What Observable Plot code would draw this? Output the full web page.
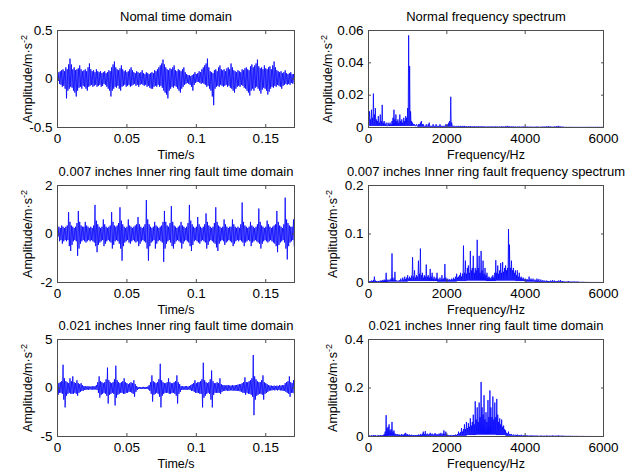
<!DOCTYPE html>
<html><head><meta charset="utf-8">
<script src="https://cdn.jsdelivr.net/npm/d3@7"></script>
<script src="https://cdn.jsdelivr.net/npm/@observablehq/plot@0.6"></script>
<style>
html,body{margin:0;padding:0;background:#fff;}
#chart{position:relative;width:639px;height:472px;overflow:hidden;background:#fff;}
#chart svg{position:absolute;overflow:visible;font-family:"Liberation Sans",Arial,Helvetica,sans-serif;font-size:13px;}
</style></head><body><div id="chart"></div>
<script>
// ---- tick labels / axis domains ----
const timeTicks = [0, 0.05, 0.1, 0.15];
const freqTicks = [0, 2000, 4000, 6000];
const timeDomain = [0, 0.1707];
const freqDomain = [0, 6000];
const dt = 0.001;   // seconds per listed time column
const df = 25;      // Hz per listed spectrum column
const floorBand = 250; // Hz per listed spectrum floor value

const titles = [
  "Nomal time domain", "Normal frequency spectrum",
  "0.007 inches Inner ring fault time domain", "0.007 inches Inner ring fault frequency spectrum",
  "0.021 inches Inner ring fault time domain", "0.021 inches Inner ring fault time domain"
];
const xLabels = ["Time/s", "Frequency/Hz"];
const yLabel = "Amplitude/m\u00B7s";
const yDomains = [[-0.5, 0.5], [0, 0.06], [-2, 2], [0, 0.2], [-5, 5], [0, 0.4]];
const yTicks = [[-0.5, 0, 0.5], [0, 0.02, 0.04, 0.06], [-2, 0, 2], [0, 0.1, 0.2], [-5, 0, 5], [0, 0.2, 0.4]];

// ---- time signals: max and min per 1 ms column (m/s^2) ----
const normalHi = [
  0.05, 0.07, 0.08, 0.09, 0.10, 0.08, 0.12, 0.10, 0.15, 0.21,
  0.15, 0.10, 0.12, 0.09, 0.10, 0.11, 0.14, 0.10, 0.08, 0.09,
  0.10, 0.08, 0.12, 0.16, 0.10, 0.08, 0.09, 0.07, 0.10, 0.08,
  0.07, 0.08, 0.06, 0.07, 0.08, 0.06, 0.07, 0.09, 0.08, 0.12,
  0.15, 0.18, 0.12, 0.10, 0.09, 0.11, 0.14, 0.10, 0.08, 0.09,
  0.07, 0.08, 0.10, 0.12, 0.09, 0.07, 0.06, 0.08, 0.07, 0.06,
  0.07, 0.09, 0.06, 0.05, 0.07, 0.06, 0.05, 0.06, 0.07, 0.06,
  0.09, 0.08, 0.10, 0.12, 0.14, 0.16, 0.20, 0.15, 0.12, 0.10,
  0.09, 0.11, 0.10, 0.12, 0.14, 0.09, 0.08, 0.10, 0.09, 0.08,
  0.10, 0.12, 0.07, 0.05, 0.04, 0.04, 0.03, 0.04, 0.05, 0.07,
  0.05, 0.06, 0.08, 0.07, 0.10, 0.12, 0.14, 0.16, 0.21, 0.12,
  0.08, 0.07, 0.06, 0.09, 0.10, 0.08, 0.12, 0.14, 0.10, 0.09,
  0.10, 0.08, 0.11, 0.12, 0.10, 0.16, 0.12, 0.09, 0.08, 0.07,
  0.09, 0.08, 0.07, 0.10, 0.09, 0.11, 0.12, 0.10, 0.09, 0.13,
  0.15, 0.12, 0.14, 0.16, 0.20, 0.13, 0.11, 0.12, 0.10, 0.14,
  0.11, 0.10, 0.12, 0.13, 0.10, 0.14, 0.18, 0.12, 0.09, 0.08,
  0.07, 0.08, 0.06, 0.07, 0.09, 0.06, 0.05, 0.06, 0.07, 0.05,
  0.05
];
const normalLo = [
  -0.02, -0.05, -0.06, -0.08, -0.07, -0.10, -0.20, -0.12, -0.10, -0.08,
  -0.09, -0.12, -0.14, -0.18, -0.12, -0.09, -0.08, -0.10, -0.07, -0.08,
  -0.10, -0.12, -0.08, -0.07, -0.06, -0.08, -0.07, -0.06, -0.08, -0.07,
  -0.06, -0.08, -0.07, -0.05, -0.06, -0.08, -0.10, -0.12, -0.18, -0.12,
  -0.10, -0.08, -0.09, -0.07, -0.10, -0.12, -0.08, -0.07, -0.06, -0.08,
  -0.07, -0.06, -0.08, -0.07, -0.06, -0.05, -0.07, -0.06, -0.08, -0.06,
  -0.05, -0.06, -0.07, -0.06, -0.08, -0.07, -0.09, -0.10, -0.10, -0.08,
  -0.07, -0.08, -0.06, -0.08, -0.07, -0.09, -0.12, -0.14, -0.16, -0.20,
  -0.12, -0.10, -0.08, -0.09, -0.07, -0.08, -0.10, -0.12, -0.14, -0.10,
  -0.08, -0.06, -0.05, -0.04, -0.05, -0.06, -0.08, -0.12, -0.06, -0.04,
  -0.03, -0.03, -0.04, -0.05, -0.04, -0.05, -0.06, -0.08, -0.07, -0.10,
  -0.12, -0.18, -0.27, -0.10, -0.08, -0.07, -0.08, -0.06, -0.07, -0.08,
  -0.07, -0.06, -0.08, -0.07, -0.09, -0.10, -0.12, -0.14, -0.10, -0.08,
  -0.07, -0.08, -0.06, -0.07, -0.09, -0.10, -0.12, -0.14, -0.17, -0.12,
  -0.10, -0.12, -0.09, -0.08, -0.10, -0.12, -0.15, -0.11, -0.09, -0.10,
  -0.12, -0.16, -0.13, -0.10, -0.08, -0.09, -0.07, -0.08, -0.06, -0.07,
  -0.08, -0.10, -0.07, -0.06, -0.05, -0.06, -0.05, -0.06, -0.04, -0.05,
  -0.03
];
const fault007Hi = [
  0.25, 0.3, 0.25, 0.35, 0.3, 0.25, 0.3, 0.35, 0.9, 0.5,
  0.35, 0.3, 0.25, 0.3, 0.45, 0.95, 0.5, 0.35, 0.3, 0.3,
  0.5, 0.35, 0.3, 0.25, 0.3, 0.25, 0.35, 1.2, 0.55, 0.4,
  0.3, 0.25, 0.3, 0.6, 0.4, 0.3, 0.25, 0.3, 0.35, 0.9,
  0.5, 0.35, 0.3, 0.35, 0.45, 1.1, 0.55, 0.4, 0.3, 0.25,
  0.3, 0.6, 0.35, 0.3, 0.25, 0.3, 0.35, 0.4, 0.7, 0.4,
  0.3, 0.25, 0.3, 0.4, 1.4, 0.6, 0.4, 0.3, 0.25, 0.3,
  0.5, 0.35, 0.3, 0.25, 0.3, 0.35, 0.5, 0.95, 0.5, 0.35,
  0.3, 0.45, 1.15, 0.5, 0.35, 0.3, 0.25, 0.3, 0.35, 0.5,
  0.35, 0.3, 0.25, 0.3, 0.45, 1.2, 0.55, 0.4, 0.3, 0.25,
  0.3, 0.7, 0.4, 0.3, 0.25, 0.3, 0.4, 0.85, 0.5, 0.35,
  0.3, 0.25, 0.3, 0.45, 1.1, 0.5, 0.35, 0.3, 0.25, 0.3,
  0.6, 0.4, 0.3, 0.25, 0.3, 0.3, 0.6, 0.4, 0.3, 0.25,
  0.3, 0.25, 0.4, 1.3, 0.5, 0.35, 0.3, 0.25, 0.3, 0.5,
  0.35, 0.3, 0.25, 0.3, 0.4, 1.05, 0.5, 0.35, 0.3, 0.25,
  0.3, 0.55, 0.4, 0.3, 0.25, 0.3, 0.35, 0.4, 0.95, 0.5,
  0.35, 0.3, 0.25, 0.4, 1.5, 0.6, 0.45, 0.35, 0.3, 0.3,
  0.6
];
const fault007Lo = [
  -0.1, -0.3, -0.25, -0.4, -0.3, -0.25, -0.3, -0.25, -0.5, -0.7,
  -0.45, -0.3, -0.25, -0.3, -0.9, -0.6, -0.4, -0.3, -0.25, -0.3,
  -0.35, -0.3, -0.25, -0.3, -0.25, -0.3, -0.35, -0.5, -0.75, -0.45,
  -0.35, -0.3, -0.25, -0.5, -0.4, -0.3, -0.25, -0.3, -0.35, -0.6,
  -0.45, -0.3, -0.25, -0.3, -0.4, -0.6, -1.1, -0.5, -0.35, -0.3,
  -0.25, -0.35, -0.4, -0.3, -0.25, -0.3, -0.35, -0.3, -0.5, -0.4,
  -0.3, -0.25, -0.3, -0.35, -0.6, -1.1, -0.5, -0.35, -0.3, -0.25,
  -0.6, -0.4, -0.3, -0.25, -0.3, -0.35, -1.15, -0.6, -0.4, -0.3,
  -0.25, -0.35, -0.5, -0.6, -0.4, -0.3, -0.25, -0.3, -0.35, -0.6,
  -0.4, -0.3, -0.25, -0.3, -0.35, -0.5, -0.7, -0.45, -0.3, -0.25,
  -0.3, -0.35, -0.4, -0.3, -0.25, -0.3, -0.35, -0.6, -0.45, -0.3,
  -0.25, -0.3, -0.35, -0.4, -0.55, -0.7, -0.4, -0.3, -0.25, -0.3,
  -0.45, -0.35, -0.3, -0.25, -0.3, -0.35, -0.5, -0.4, -0.3, -0.25,
  -0.3, -0.25, -0.3, -0.35, -0.5, -0.35, -0.3, -0.25, -0.3, -0.5,
  -0.35, -0.3, -0.25, -0.3, -0.35, -0.4, -0.6, -0.4, -0.3, -0.25,
  -0.3, -0.35, -0.3, -0.25, -0.3, -0.35, -0.4, -0.5, -0.75, -0.45,
  -0.35, -0.3, -0.25, -0.35, -0.6, -1.05, -0.5, -0.35, -0.3, -0.25,
  -0.5
];
const fault021Hi = [
  1.0, 0.5, 0.6, 0.7, 2.4, 1.0, 0.7, 0.6, 0.5, 1.0,
  0.7, 1.2, 0.6, 0.5, 0.8, 0.5, 0.4, 0.5, 0.3, 0.2,
  0.2, 0.15, 0.2, 0.15, 0.15, 0.2, 0.15, 0.2, 0.3, 0.6,
  1.2, 0.7, 0.6, 0.5, 0.6, 0.9, 2.1, 0.8, 0.6, 0.5,
  0.6, 0.9, 2.3, 0.8, 0.6, 0.5, 0.6, 0.7, 1.0, 0.6,
  0.5, 0.4, 0.5, 0.6, 0.5, 0.8, 0.4, 0.2, 0.1, 0.1,
  0.1, 0.1, 0.12, 0.1, 0.1, 0.15, 0.3, 0.6, 1.3, 0.7,
  0.6, 0.5, 0.6, 0.9, 2.5, 0.8, 0.6, 0.5, 0.5, 0.6,
  1.0, 0.6, 0.5, 0.5, 0.6, 0.7, 1.3, 0.6, 0.4, 0.2,
  0.2, 0.15, 0.2, 0.2, 0.15, 0.2, 0.3, 0.4, 0.5, 0.8,
  0.5, 0.6, 0.6, 0.7, 0.9, 2.6, 0.8, 0.6, 0.5, 0.6,
  0.9, 1.8, 0.7, 0.5, 0.5, 0.6, 0.5, 1.0, 0.4, 0.3,
  0.3, 0.25, 0.3, 0.3, 0.25, 0.25, 0.3, 0.25, 0.3, 0.3,
  0.35, 0.4, 0.4, 0.5, 0.6, 1.1, 0.6, 0.6, 0.7, 0.8,
  1.0, 3.4, 1.2, 0.9, 0.7, 0.6, 0.6, 0.8, 1.3, 0.6,
  0.5, 0.4, 0.3, 0.25, 0.25, 0.2, 0.25, 0.2, 0.25, 0.2,
  0.3, 0.25, 0.3, 0.3, 0.5, 0.6, 0.7, 1.2, 0.6, 0.5,
  0.8
];
const fault021Lo = [
  -0.7, -0.5, -0.5, -0.6, -1.2, -2.0, -0.8, -0.6, -0.5, -0.6,
  -0.6, -0.6, -0.5, -0.6, -0.8, -0.5, -0.4, -0.3, -0.3, -0.2,
  -0.2, -0.15, -0.2, -0.15, -0.15, -0.2, -0.15, -0.15, -0.2, -0.5,
  -1.0, -0.7, -0.6, -0.5, -0.6, -0.8, -1.6, -0.7, -0.6, -0.5,
  -0.6, -1.8, -1.0, -0.7, -0.6, -0.5, -0.5, -0.6, -0.6, -0.5,
  -0.5, -0.4, -0.4, -0.5, -0.6, -0.9, -0.4, -0.2, -0.1, -0.1,
  -0.1, -0.1, -0.1, -0.1, -0.1, -0.15, -0.3, -0.6, -1.4, -0.7,
  -0.6, -0.5, -0.6, -0.9, -2.0, -0.8, -0.6, -0.5, -0.5, -0.5,
  -0.6, -0.6, -0.5, -0.5, -0.6, -0.8, -1.6, -0.6, -0.4, -0.2,
  -0.2, -0.15, -0.2, -0.2, -0.15, -0.2, -0.3, -0.3, -0.4, -0.5,
  -0.5, -0.5, -0.6, -0.6, -2.0, -1.0, -0.8, -0.6, -0.5, -0.6,
  -1.2, -2.0, -0.7, -0.5, -0.5, -0.5, -0.5, -0.6, -0.4, -0.3,
  -0.3, -0.25, -0.3, -0.3, -0.25, -0.25, -0.3, -0.25, -0.3, -0.3,
  -0.3, -0.35, -0.4, -0.5, -0.5, -0.7, -0.5, -0.6, -0.6, -0.7,
  -0.9, -2.8, -1.2, -0.8, -0.7, -0.6, -0.6, -0.7, -1.2, -0.6,
  -0.5, -0.4, -0.3, -0.25, -0.25, -0.2, -0.25, -0.2, -0.25, -0.2,
  -0.25, -0.25, -0.3, -0.3, -0.4, -0.5, -0.6, -0.9, -0.5, -0.5,
  -0.6
];

// ---- amplitude spectra: peak per 25 Hz column ----
const specNormal = [
  0.002, 0.010, 0.005, 0.011, 0.006, 0.021, 0.008, 0.012, 0.005, 0.004,
  0.007, 0.003, 0.008, 0.004, 0.014, 0.003, 0.004, 0.002, 0.003, 0.001,
  0.003, 0.002, 0.003, 0.002, 0.004, 0.006, 0.011, 0.005, 0.008, 0.004,
  0.005, 0.003, 0.008, 0.004, 0.005, 0.003, 0.006, 0.004, 0.007, 0.006,
  0.012, 0.057, 0.038, 0.010, 0.004, 0.003, 0.002, 0.002, 0.001, 0.002,
  0.001, 0.002, 0.002, 0.003, 0.004, 0.002, 0.002, 0.001, 0.001, 0.002,
  0.001, 0.002, 0.003, 0.001, 0.001, 0.001, 0.002, 0.001, 0.001, 0.002,
  0.001, 0.001, 0.001, 0.002, 0.001, 0.001, 0.001, 0.001, 0.001, 0.002,
  0.001, 0.002, 0.003, 0.004, 0.019, 0.003, 0.001, 0.001, 0.001, 0.0005,
  0.001, 0.0005, 0.001, 0.0005, 0.001, 0.0005, 0.001, 0.0005, 0.001, 0.0005,
  0.0008, 0.0004, 0.0008, 0.0005, 0.0009, 0.0004, 0.0007, 0.0004, 0.0008, 0.0005,
  0.0007, 0.0004, 0.0008, 0.0004, 0.0007, 0.0005, 0.0008, 0.0004, 0.0007, 0.0004,
  0.0006, 0.0004, 0.0007, 0.0003, 0.0006, 0.0004, 0.0007, 0.0003, 0.0006, 0.0004,
  0.0007, 0.0003, 0.0006, 0.0004, 0.0006, 0.0003, 0.0007, 0.0004, 0.0006, 0.0003,
  0.0008, 0.0004, 0.0010, 0.0004, 0.0007, 0.0003, 0.0006, 0.0004, 0.0006, 0.0003,
  0.0006, 0.0003, 0.0005, 0.0003, 0.0006, 0.0003, 0.0005, 0.0003, 0.0006, 0.0003,
  0.0005, 0.0003, 0.0006, 0.0003, 0.0005, 0.0003, 0.0005, 0.0002, 0.0005, 0.0003,
  0.0005, 0.0002, 0.0006, 0.0003, 0.0005, 0.0002, 0.0005, 0.0003, 0.0006, 0.0003,
  0.0006, 0.0003, 0.0007, 0.0004, 0.0008, 0.0003, 0.0006, 0.0003, 0.0005, 0.0003,
  0.0006, 0.0003, 0.0008, 0.0004, 0.0010, 0.0004, 0.0006, 0.0003, 0.0005, 0.0003,
  0.0002, 0.0001, 0.0002, 0.0001, 0.0002, 0.0001, 0.0002, 0.0001, 0.0002, 0.0001,
  0.0002, 0.0001, 0.0002, 0.0001, 0.0002, 0.0001, 0.0002, 0.0001, 0.0002, 0.0001,
  0.0002, 0.0001, 0.0002, 0.0001, 0.0002, 0.0001, 0.0002, 0.0001, 0.0002, 0.0001,
  0.0002, 0.0001, 0.0002, 0.0001, 0.0002, 0.0001, 0.0002, 0.0001, 0.0002, 0.0001,
  0.0001
];
const spec007 = [
  0.002, 0.003, 0.002, 0.004, 0.003, 0.005, 0.012, 0.004, 0.003, 0.002,
  0.003, 0.002, 0.004, 0.003, 0.005, 0.004, 0.006, 0.005, 0.020, 0.006,
  0.004, 0.006, 0.005, 0.008, 0.060, 0.010, 0.006, 0.022, 0.005, 0.004,
  0.003, 0.004, 0.005, 0.008, 0.004, 0.010, 0.006, 0.012, 0.007, 0.010,
  0.015, 0.008, 0.012, 0.009, 0.014, 0.052, 0.012, 0.025, 0.010, 0.015,
  0.012, 0.045, 0.018, 0.070, 0.015, 0.020, 0.010, 0.015, 0.012, 0.037,
  0.012, 0.015, 0.010, 0.028, 0.012, 0.020, 0.008, 0.012, 0.007, 0.010,
  0.020, 0.008, 0.006, 0.010, 0.006, 0.015, 0.007, 0.009, 0.038, 0.010,
  0.006, 0.008, 0.005, 0.007, 0.005, 0.008, 0.006, 0.010, 0.007, 0.012,
  0.018, 0.010, 0.012, 0.015, 0.020, 0.012, 0.018, 0.076, 0.020, 0.045,
  0.018, 0.030, 0.035, 0.020, 0.065, 0.025, 0.030, 0.055, 0.020, 0.030,
  0.025, 0.088, 0.030, 0.055, 0.020, 0.065, 0.025, 0.045, 0.018, 0.030,
  0.015, 0.020, 0.010, 0.012, 0.010, 0.008, 0.012, 0.015, 0.010, 0.020,
  0.046, 0.020, 0.035, 0.018, 0.025, 0.040, 0.020, 0.042, 0.022, 0.030,
  0.035, 0.025, 0.030, 0.110, 0.078, 0.030, 0.045, 0.025, 0.030, 0.020,
  0.025, 0.015, 0.025, 0.012, 0.020, 0.010, 0.012, 0.008, 0.010, 0.006,
  0.008, 0.006, 0.007, 0.005, 0.012, 0.006, 0.008, 0.005, 0.008, 0.004,
  0.006, 0.004, 0.008, 0.004, 0.007, 0.003, 0.006, 0.003, 0.005, 0.003,
  0.004, 0.002, 0.004, 0.003, 0.003, 0.002, 0.004, 0.002, 0.005, 0.002,
  0.004, 0.002, 0.003, 0.002, 0.004, 0.002, 0.005, 0.002, 0.003, 0.002,
  0.002, 0.001, 0.002, 0.001, 0.003, 0.001, 0.002, 0.001, 0.002, 0.001,
  0.002, 0.001, 0.002, 0.001, 0.002, 0.001, 0.001, 0.001, 0.001, 0.0005,
  0.001, 0.0005, 0.001, 0.0005, 0.0003, 0.0002, 0.0002, 0.0001, 0.0001, 0.0001,
  0.0001, 0.0001, 0.0001, 0.0001, 0.0001, 0.0001, 0.0001, 0.0001, 0.0001, 0.0001,
  0.0001
];
const spec021 = [
  0.002, 0.004, 0.003, 0.005, 0.003, 0.006, 0.004, 0.005, 0.003, 0.004,
  0.005, 0.003, 0.006, 0.004, 0.005, 0.006, 0.010, 0.020, 0.088, 0.035,
  0.040, 0.050, 0.025, 0.030, 0.060, 0.020, 0.025, 0.012, 0.010, 0.008,
  0.010, 0.006, 0.008, 0.005, 0.010, 0.006, 0.008, 0.012, 0.015, 0.008,
  0.010, 0.006, 0.008, 0.005, 0.007, 0.005, 0.006, 0.004, 0.006, 0.005,
  0.006, 0.008, 0.005, 0.010, 0.007, 0.012, 0.020, 0.010, 0.022, 0.008,
  0.012, 0.008, 0.010, 0.015, 0.008, 0.012, 0.006, 0.010, 0.014, 0.008,
  0.010, 0.007, 0.012, 0.010, 0.015, 0.008, 0.012, 0.025, 0.010, 0.020,
  0.008, 0.006, 0.005, 0.004, 0.006, 0.004, 0.005, 0.006, 0.005, 0.008,
  0.006, 0.010, 0.020, 0.012, 0.018, 0.035, 0.020, 0.030, 0.050, 0.030,
  0.060, 0.035, 0.055, 0.040, 0.075, 0.045, 0.060, 0.090, 0.050, 0.145,
  0.070, 0.120, 0.060, 0.140, 0.080, 0.225, 0.120, 0.090, 0.170, 0.070,
  0.100, 0.060, 0.150, 0.080, 0.190, 0.120, 0.080, 0.165, 0.070, 0.140,
  0.080, 0.155, 0.090, 0.060, 0.075, 0.050, 0.070, 0.040, 0.045, 0.030,
  0.025, 0.015, 0.012, 0.020, 0.010, 0.008, 0.010, 0.006, 0.008, 0.005,
  0.007, 0.005, 0.008, 0.004, 0.006, 0.004, 0.007, 0.003, 0.005, 0.004,
  0.006, 0.003, 0.005, 0.003, 0.004, 0.003, 0.005, 0.002, 0.004, 0.003,
  0.004, 0.002, 0.004, 0.002, 0.003, 0.002, 0.004, 0.002, 0.003, 0.002,
  0.003, 0.002, 0.004, 0.002, 0.003, 0.002, 0.003, 0.002, 0.004, 0.002,
  0.003, 0.002, 0.003, 0.002, 0.004, 0.002, 0.003, 0.002, 0.003, 0.002,
  0.002, 0.001, 0.002, 0.001, 0.002, 0.001, 0.002, 0.001, 0.002, 0.001,
  0.002, 0.001, 0.002, 0.001, 0.001, 0.001, 0.001, 0.0005, 0.001, 0.0005,
  0.0005, 0.0003, 0.0005, 0.0003, 0.0003, 0.0002, 0.0002, 0.0001, 0.0001, 0.0001,
  0.0001, 0.0001, 0.0001, 0.0001, 0.0001, 0.0001, 0.0001, 0.0001, 0.0001, 0.0001,
  0.0001
];
// ---- spectrum noise floor per 250 Hz band ----
const floorNormal = [0.001, 0.001, 0.001, 0.001, 0.001, 0.0005, 0.0005, 0.0005, 0.0005, 0.0003,
  0.0003, 0.0003, 0.0003, 0.0003, 0.0003, 0.0003, 0.0002, 0.0002, 0.0002, 0.0002,
  0.0001, 0.0001, 0.0001, 0.0001, 0.0001];
const floor007 = [0.001, 0.001, 0.002, 0.002, 0.003, 0.003, 0.003, 0.002, 0.002, 0.003,
  0.004, 0.004, 0.003, 0.004, 0.004, 0.003, 0.002, 0.0015, 0.001, 0.001,
  0.0008, 0.0005, 0.0002, 0.0001, 0.0001];
const floor021 = [0.001, 0.002, 0.003, 0.002, 0.002, 0.002, 0.003, 0.003, 0.002, 0.003,
  0.006, 0.008, 0.008, 0.006, 0.003, 0.002, 0.0015, 0.001, 0.001, 0.001,
  0.0005, 0.0005, 0.0002, 0.0001, 0.0001];

const FONT = "'Liberation Sans', Arial, Helvetica, sans-serif";
const AXIS = "#4d4d4d";
const chart = document.getElementById("chart");

// time table: each 1 ms column contributes its max then its min
function timeTable(hi, lo) {
  const out = [];
  hi.forEach((h, k) => { out.push({x: k * dt, y: h}); out.push({x: k * dt + dt / 2, y: lo[k]}); });
  return out;
}
// spectrum table: each 25 Hz column contributes its peak then the band floor
function specTable(peaks, floors) {
  const out = [];
  peaks.forEach((p, k) => {
    out.push({x: k * df, y: p});
    if (k < peaks.length - 1) out.push({x: k * df + df / 2, y: floors[Math.floor(k * df / floorBand)]});
  });
  return out;
}

function panel(i, data, isFreq) {
  const col = i % 2, row = Math.floor(i / 2);
  const width = col === 0 ? 320 : 319;
  const mL = col === 0 ? 57 : 48;
  const mR = col === 0 ? 26 : 36;
  const top = [0, 155, 309][row];
  const yGap = col === 0 ? 26 : (row === 0 ? 37 : 32);
  const xTicks = isFreq ? freqTicks : timeTicks;
  const svg = Plot.plot({
    width, height: 160,
    marginLeft: mL, marginRight: mR, marginTop: 30, marginBottom: 33,
    style: {fontFamily: FONT, fontSize: "13px", background: "transparent", overflow: "visible", color: "#000"},
    x: {domain: isFreq ? freqDomain : timeDomain, axis: null},
    y: {domain: yDomains[i], axis: null},
    marks: [
      Plot.line(data, {x: "x", y: "y", stroke: "#0000ff", strokeWidth: 0.8, clip: true}),
      Plot.frame({stroke: AXIS}),
      Plot.axisX({ticks: xTicks, anchor: "bottom", tickSize: 3, dy: -3, tickFormat: () => "", stroke: AXIS, label: null}),
      Plot.axisX({ticks: xTicks, anchor: "top", tickSize: 3, dy: 3, tickFormat: () => "", stroke: AXIS, label: null}),
      Plot.axisY({ticks: yTicks[i], anchor: "left", tickSize: 3, dx: 3, tickFormat: () => "", stroke: AXIS, label: null}),
      Plot.axisY({ticks: yTicks[i], anchor: "right", tickSize: 3, dx: -3, tickFormat: () => "", stroke: AXIS, label: null}),
      Plot.axisX({ticks: xTicks, anchor: "bottom", tickSize: 0, tickPadding: 6, tickFormat: d => String(d), fill: "#000", label: null}),
      Plot.axisY({ticks: yTicks[i], anchor: "left", tickSize: 0, tickPadding: 5, tickFormat: d => String(d), fill: "#000", label: null}),
      Plot.text([titles[i]], {text: d => d, frameAnchor: "top", dy: -10, lineAnchor: "bottom", fill: "#000"}),
      Plot.text([xLabels[isFreq ? 1 : 0]], {text: d => d, frameAnchor: "bottom", dy: 31, lineAnchor: "bottom", fill: "#000"}),
      Plot.text([yLabel], {text: d => d, frameAnchor: "left", dx: -yGap, rotate: -90, textAnchor: "middle", lineAnchor: "bottom", fill: "#000"})
    ]
  });
  svg.style.left = (col === 0 ? 0 : 320) + "px";
  svg.style.top = top + "px";
  svg.style.fontFamily = FONT;
  svg.style.fontSize = "13px";
  svg.querySelectorAll("text").forEach(t => {
    const s = t.textContent;
    t.style.fontFamily = FONT;
    if (titles.includes(s)) t.style.fontSize = "13px";
    else if (xLabels.includes(s) || s === yLabel) t.style.fontSize = "12.5px";
    else t.style.fontSize = "13.5px";
    if (s === yLabel) {
      const ts = document.createElementNS("http://www.w3.org/2000/svg", "tspan");
      ts.setAttribute("dy", "-5");
      ts.style.fontSize = "9px";
      ts.textContent = "-2";
      t.appendChild(ts);
    }
  });
  chart.appendChild(svg);
}

panel(0, timeTable(normalHi, normalLo), false);
panel(1, specTable(specNormal, floorNormal), true);
panel(2, timeTable(fault007Hi, fault007Lo), false);
panel(3, specTable(spec007, floor007), true);
panel(4, timeTable(fault021Hi, fault021Lo), false);
panel(5, specTable(spec021, floor021), true);
</script>
</body></html>
